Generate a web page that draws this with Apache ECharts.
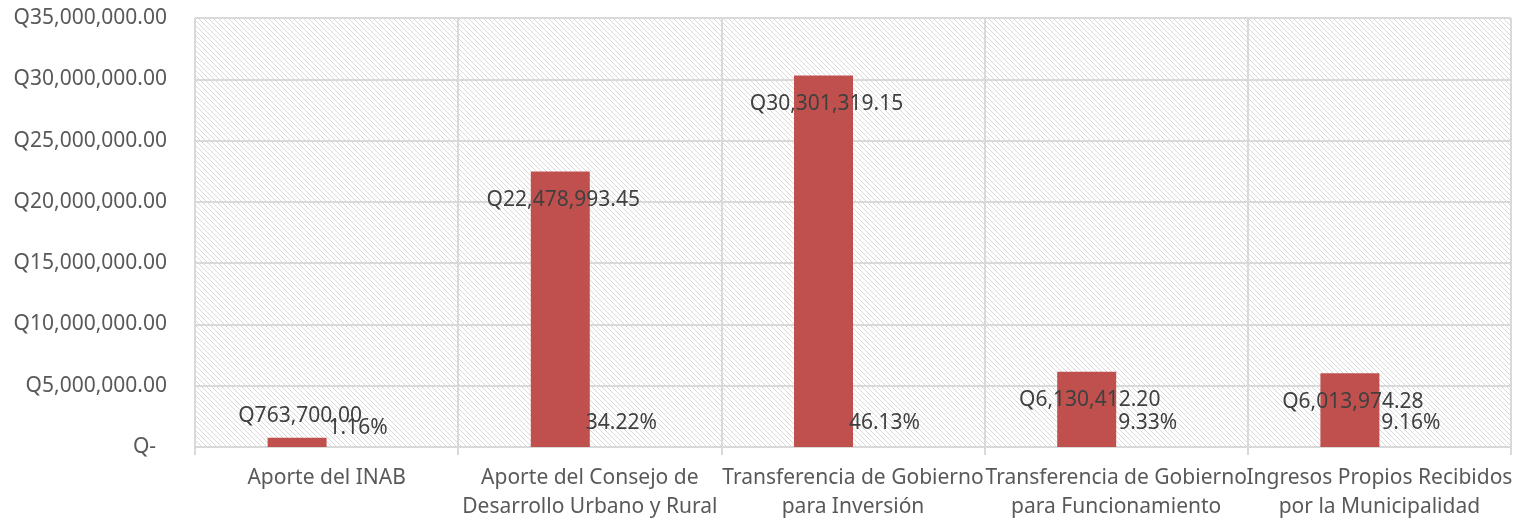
<!DOCTYPE html>
<html>
<head>
<meta charset="utf-8">
<script src="https://cdn.jsdelivr.net/npm/echarts@6/dist/echarts.min.js"></script>
<style>
  html, body { margin: 0; padding: 0; background: #ffffff; }
  #chart { width: 1517px; height: 518px; }
</style>
</head>
<body>
<div id="chart"></div>
<script>
var categories = [
    "Aporte del INAB",
    "Aporte del Consejo de\nDesarrollo Urbano y Rural",
    "Transferencia de Gobierno\npara Inversión",
    "Transferencia de Gobierno\npara Funcionamiento",
    "Ingresos Propios Recibidos\npor la Municipalidad"
];
var amounts = [763700.00, 22478993.45, 30301319.15, 6130412.20, 6013974.28];
var percents = [1.16, 34.22, 46.13, 9.33, 9.16];

function money(v) {
    if (v === 0) return "Q-  ";
    return "Q" + v.toLocaleString("en-US", { minimumFractionDigits: 2, maximumFractionDigits: 2 });
}

// hatched plot background
var tile = document.createElement("canvas");
tile.width = 5;
tile.height = 5;
var ctx = tile.getContext("2d");
ctx.fillStyle = "#ffffff";
ctx.fillRect(0, 0, 5, 5);
for (var i = 0; i < 5; i++) {
    ctx.fillStyle = "#d9d9d9";
    ctx.fillRect(i, i, 1, 1);
}

var myChart = echarts.init(document.getElementById("chart"));
var font = "Noto Sans";

var option = {
    backgroundColor: "#ffffff",
    animation: false,
    grid: {
        left: 195,
        right: 6,
        top: 18,
        bottom: 71,
        outerBoundsMode: "none",
        show: true,
        borderWidth: 0,
        backgroundColor: { image: tile, repeat: "repeat" }
    },
    xAxis: {
        type: "category",
        data: categories,
        axisLine: { lineStyle: { color: "#d9d9d9", width: 2 } },
        axisTick: { show: true, length: 8, lineStyle: { color: "#d9d9d9", width: 2 } },
        splitLine: { show: true, lineStyle: { color: "#d9d9d9", width: 2 } },
        axisLabel: {
            interval: 0,
            margin: 17,
            color: "#595959",
            fontFamily: font,
            fontSize: 21,
            lineHeight: 29
        }
    },
    yAxis: {
        type: "value",
        min: 0,
        max: 35000000,
        interval: 5000000,
        axisLine: { show: false },
        axisTick: { show: false },
        splitLine: { lineStyle: { color: "#d9d9d9", width: 2 } },
        axisLabel: {
            margin: 28,
            color: "#595959",
            fontFamily: font,
            fontSize: 21,
            formatter: money
        }
    },
    series: [
        {
            name: "Monto",
            type: "bar",
            barWidth: 59,
            barGap: "0%",
            itemStyle: { color: "#c0504d" },
            label: {
                show: true,
                position: "insideTop",
                distance: 18,
                offset: [3, 0],
                color: "#404040",
                fontFamily: font,
                fontSize: 21,
                formatter: function(p) { return money(p.value); }
            },
            data: amounts.map(function(v, i) {
                if (i === 0) {
                    return { value: v, label: { position: "top", distance: 11 } };
                }
                return v;
            }),
            z: 3
        },
        {
            name: "Porcentaje",
            type: "bar",
            barWidth: 59,
            itemStyle: { color: "rgba(0,0,0,0)" },
            label: {
                show: true,
                position: "top",
                distance: 13,
                offset: [2, 0],
                color: "#404040",
                fontFamily: font,
                fontSize: 21,
                formatter: function(p) { return p.value.toFixed(2) + "%"; }
            },
            data: percents.map(function(v, i) {
                if (i === 0) {
                    return { value: v, label: { distance: 8 } };
                }
                return v;
            }),
            z: 4
        }
    ]
};
myChart.setOption(option);
</script>
</body>
</html>
